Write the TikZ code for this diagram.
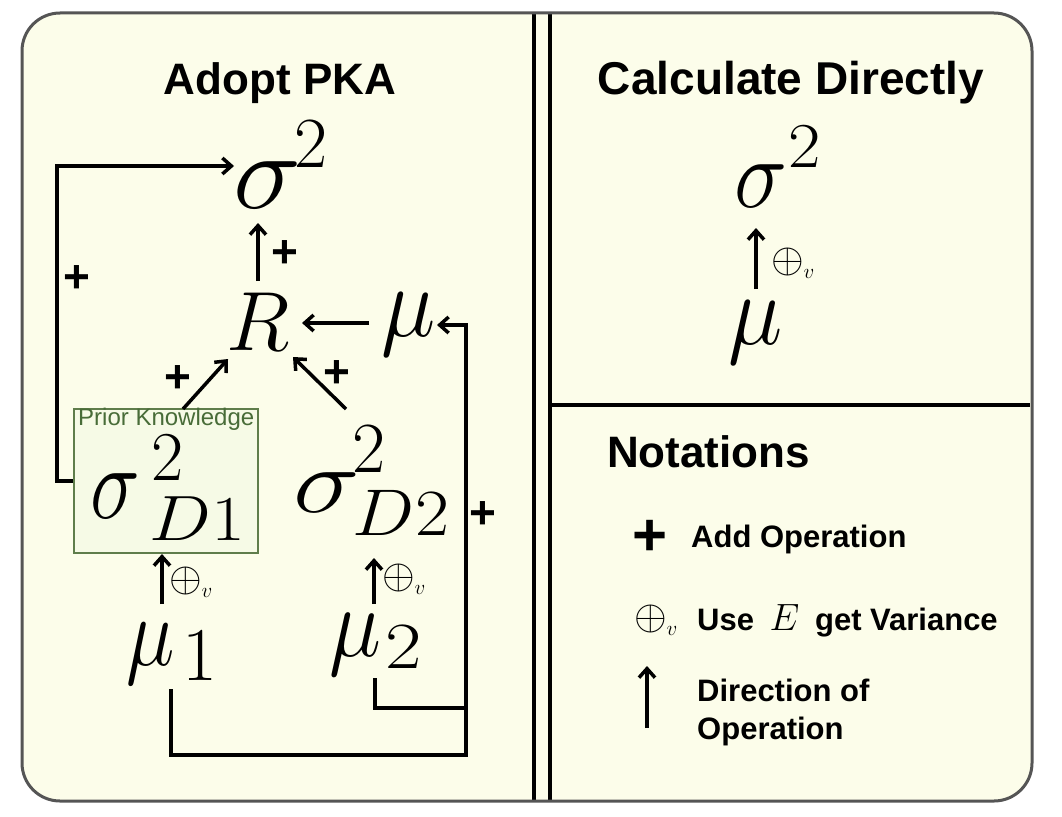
\RequirePackage{fix-cm}
\documentclass[tikz,border=0pt]{standalone}
\usepackage[no-math]{fontspec}
\setmainfont{Liberation Sans}
\usepackage{graphicx}
\usetikzlibrary{arrows.meta}
\definecolor{cream}{RGB}{252,253,234}
\definecolor{framegrey}{RGB}{85,85,85}
\definecolor{pkgreen}{RGB}{95,125,75}
\definecolor{pktext}{RGB}{72,108,56}
\definecolor{pkfill}{RGB}{246,250,230}
% \gl{hscale}{vscale}{size}{math}
\newcommand{\gl}[4]{\scalebox{#1}[#2]{\fontsize{#3}{#3}\selectfont$#4$}}
\newcommand{\upby}[2]{\smash{\raisebox{#1}{#2}}}
\begin{document}
\begin{tikzpicture}[x=1pt,y=-1pt,
  conn/.style={line width=3.5pt},
  arr/.style={line width=3.5pt,-{Straight Barb[length=9pt,width=16pt]}},
  mathn/.style={inner sep=0pt,anchor=base west},
  titlen/.style={inner sep=0pt,anchor=base,font=\fontsize{44}{44}\selectfont\bfseries},
  plusn/.style={inner sep=0pt,font=\fontsize{46}{46}\selectfont\bfseries},
  oplusn/.style={inner sep=0pt,anchor=center,font=\fontsize{42}{42}\selectfont},
  noten/.style={inner sep=0pt,anchor=base west,font=\fontsize{31}{31}\selectfont\bfseries},
  pkbox/.style={draw=pkgreen,line width=1.6pt,fill=pkfill,minimum width=184pt,minimum height=144pt,inner sep=0pt},
]
\useasboundingbox (0,0) rectangle (1062,816);
% panel
\fill[cream, rounded corners=38pt] (22,13) rectangle (1032,801);
\draw[line width=4pt] (534,13) -- (534,801);
\draw[line width=4pt] (550,13) -- (550,801);
\draw[line width=4pt] (550,405) -- (1030,405);
\draw[framegrey, line width=3pt, rounded corners=38pt] (22,13) rectangle (1032,801);

% titles
\node[titlen] (t1) at (280,94) {Adopt PKA};
\node[titlen,font=\fontsize{46}{46}\selectfont\bfseries] (t2) at (791,94) {Calculate Directly};
\node[titlen,anchor=base west] (t3) at (607,467) {Notations};

% prior knowledge box
\node[pkbox] (pk) at (166,481) {};
\node[inner sep=0pt,anchor=base west,text=pktext,font=\fontsize{24}{24}\selectfont] (pkl) at (78,425) {Prior Knowledge};

% left math nodes
\node[mathn] (S) at (233,208) {\gl{1.25}{1.18}{92}{\sigma}\kern-7pt\upby{41pt}{\gl{1}{1}{72}{2}}};
\node[mathn] (R) at (226,350) {\gl{1}{1}{84}{R}};
\node[mathn] (M) at (381,336) {\gl{1}{1.1}{92}{\mu}};
\node[mathn] (SD1) at (90,518) {\gl{1.05}{1.3}{80}{\sigma}\kern10pt\rlap{\kern2pt\upby{38pt}{\gl{1}{1}{70}{2}}}\raisebox{-22pt}{\gl{1.15}{1}{64}{D1}}};
\node[mathn] (SD2) at (293,512) {\gl{1.28}{1.05}{88}{\sigma}\kern-7pt\rlap{\upby{40pt}{\gl{1}{1}{72}{2}}}\raisebox{-23pt}{\gl{1.12}{1}{66}{D2}}};
\node[mathn] (M1) at (126,665) {\gl{1}{1.2}{82}{\mu}\kern8pt\raisebox{-15pt}{\gl{1}{1}{76}{1}}};
\node[mathn] (M2) at (329,656) {\gl{1}{1.13}{88}{\mu}\kern4pt\raisebox{-12pt}{\gl{1.2}{1}{66}{2}}};

% right math nodes
\node[mathn] (S2) at (734,207) {\gl{1.12}{1.24}{80}{\sigma}\kern1pt\upby{40pt}{\gl{1.1}{1}{64}{2}}};
\node[mathn] (MR) at (728,344) {\gl{1}{1.1}{92}{\mu}};

% oplus labels
\node[oplusn] (o1) at (191,582) {$\oplus_{\scriptscriptstyle v}$};
\node[oplusn] (o2) at (404,579) {$\oplus_{\scriptscriptstyle v}$};
\node[oplusn] (o3) at (793,263) {$\oplus_{\scriptscriptstyle v}$};
\node[oplusn] (o4) at (656,620) {$\oplus_{\scriptscriptstyle v}$};

% plus labels
\node[plusn] (p1) at (77,279) {+};
\node[plusn] (p2) at (285,254) {+};
\node[plusn] (p3) at (178,379) {+};
\node[plusn] (p4) at (337,374) {+};
\node[plusn] (p5) at (483,515) {+};
\node[plusn,font=\fontsize{60}{60}\selectfont\bfseries] (p6) at (650,538) {+};

% notation texts
\node[noten] (n1) at (691,547) {Add Operation};
\node[noten] (n2) at (697,630) {Use\kern7pt{} {\fontsize{38}{38}\selectfont$E$}\kern7pt{} get Variance};
\node[noten] (n3) at (697,701) {Direction of};
\node[noten] (n4) at (697,739) {Operation};

% coordinates for connectors
\coordinate (cL1) at (57,481);
\coordinate (cL2) at (57,166);
\coordinate (Sin) at (234,166);
\coordinate (Rout) at (258,281);
\coordinate (Sin2) at (258,223);
\coordinate (Mout) at (369,323);
\coordinate (Rin) at (302,323);
\coordinate (D1out) at (183,409);
\coordinate (Rin1) at (228,359);
\coordinate (D2out) at (346,409);
\coordinate (Rin2) at (293,357);
\coordinate (M1out) at (162,604);
\coordinate (D1in) at (162,554);
\coordinate (M2out) at (374,604);
\coordinate (D2in) at (374,558);
\coordinate (M1b) at (171,689);
\coordinate (cB1) at (171,755);
\coordinate (cB2) at (466,755);
\coordinate (cB3) at (466,325);
\coordinate (Min) at (437,325);
\coordinate (M2b) at (375,678);
\coordinate (cC1) at (375,708);
\coordinate (cC2) at (466,708);
\coordinate (MRout) at (756,289);
\coordinate (S2in) at (756,228);
\coordinate (NAb) at (647,728);
\coordinate (NAt) at (647,666);

% connectors
\draw[arr] (pk.west) -- (cL1) -- (cL2) -- (Sin);
\draw[arr] (Rout) -- (Sin2);
\draw[arr] (Mout) -- (Rin);
\draw[arr] (D1out) -- (Rin1);
\draw[arr] (D2out) -- (Rin2);
\draw[arr] (M1out) -- (D1in);
\draw[arr] (M2out) -- (D2in);
\draw[arr] (M1b) -- (cB1) -- (cB2) -- (cB3) -- (Min);
\draw[conn] (M2b) -- (cC1) -- (cC2);
\draw[arr] (MRout) -- (S2in);
\draw[arr] (NAb) -- (NAt);
\end{tikzpicture}
\end{document}
